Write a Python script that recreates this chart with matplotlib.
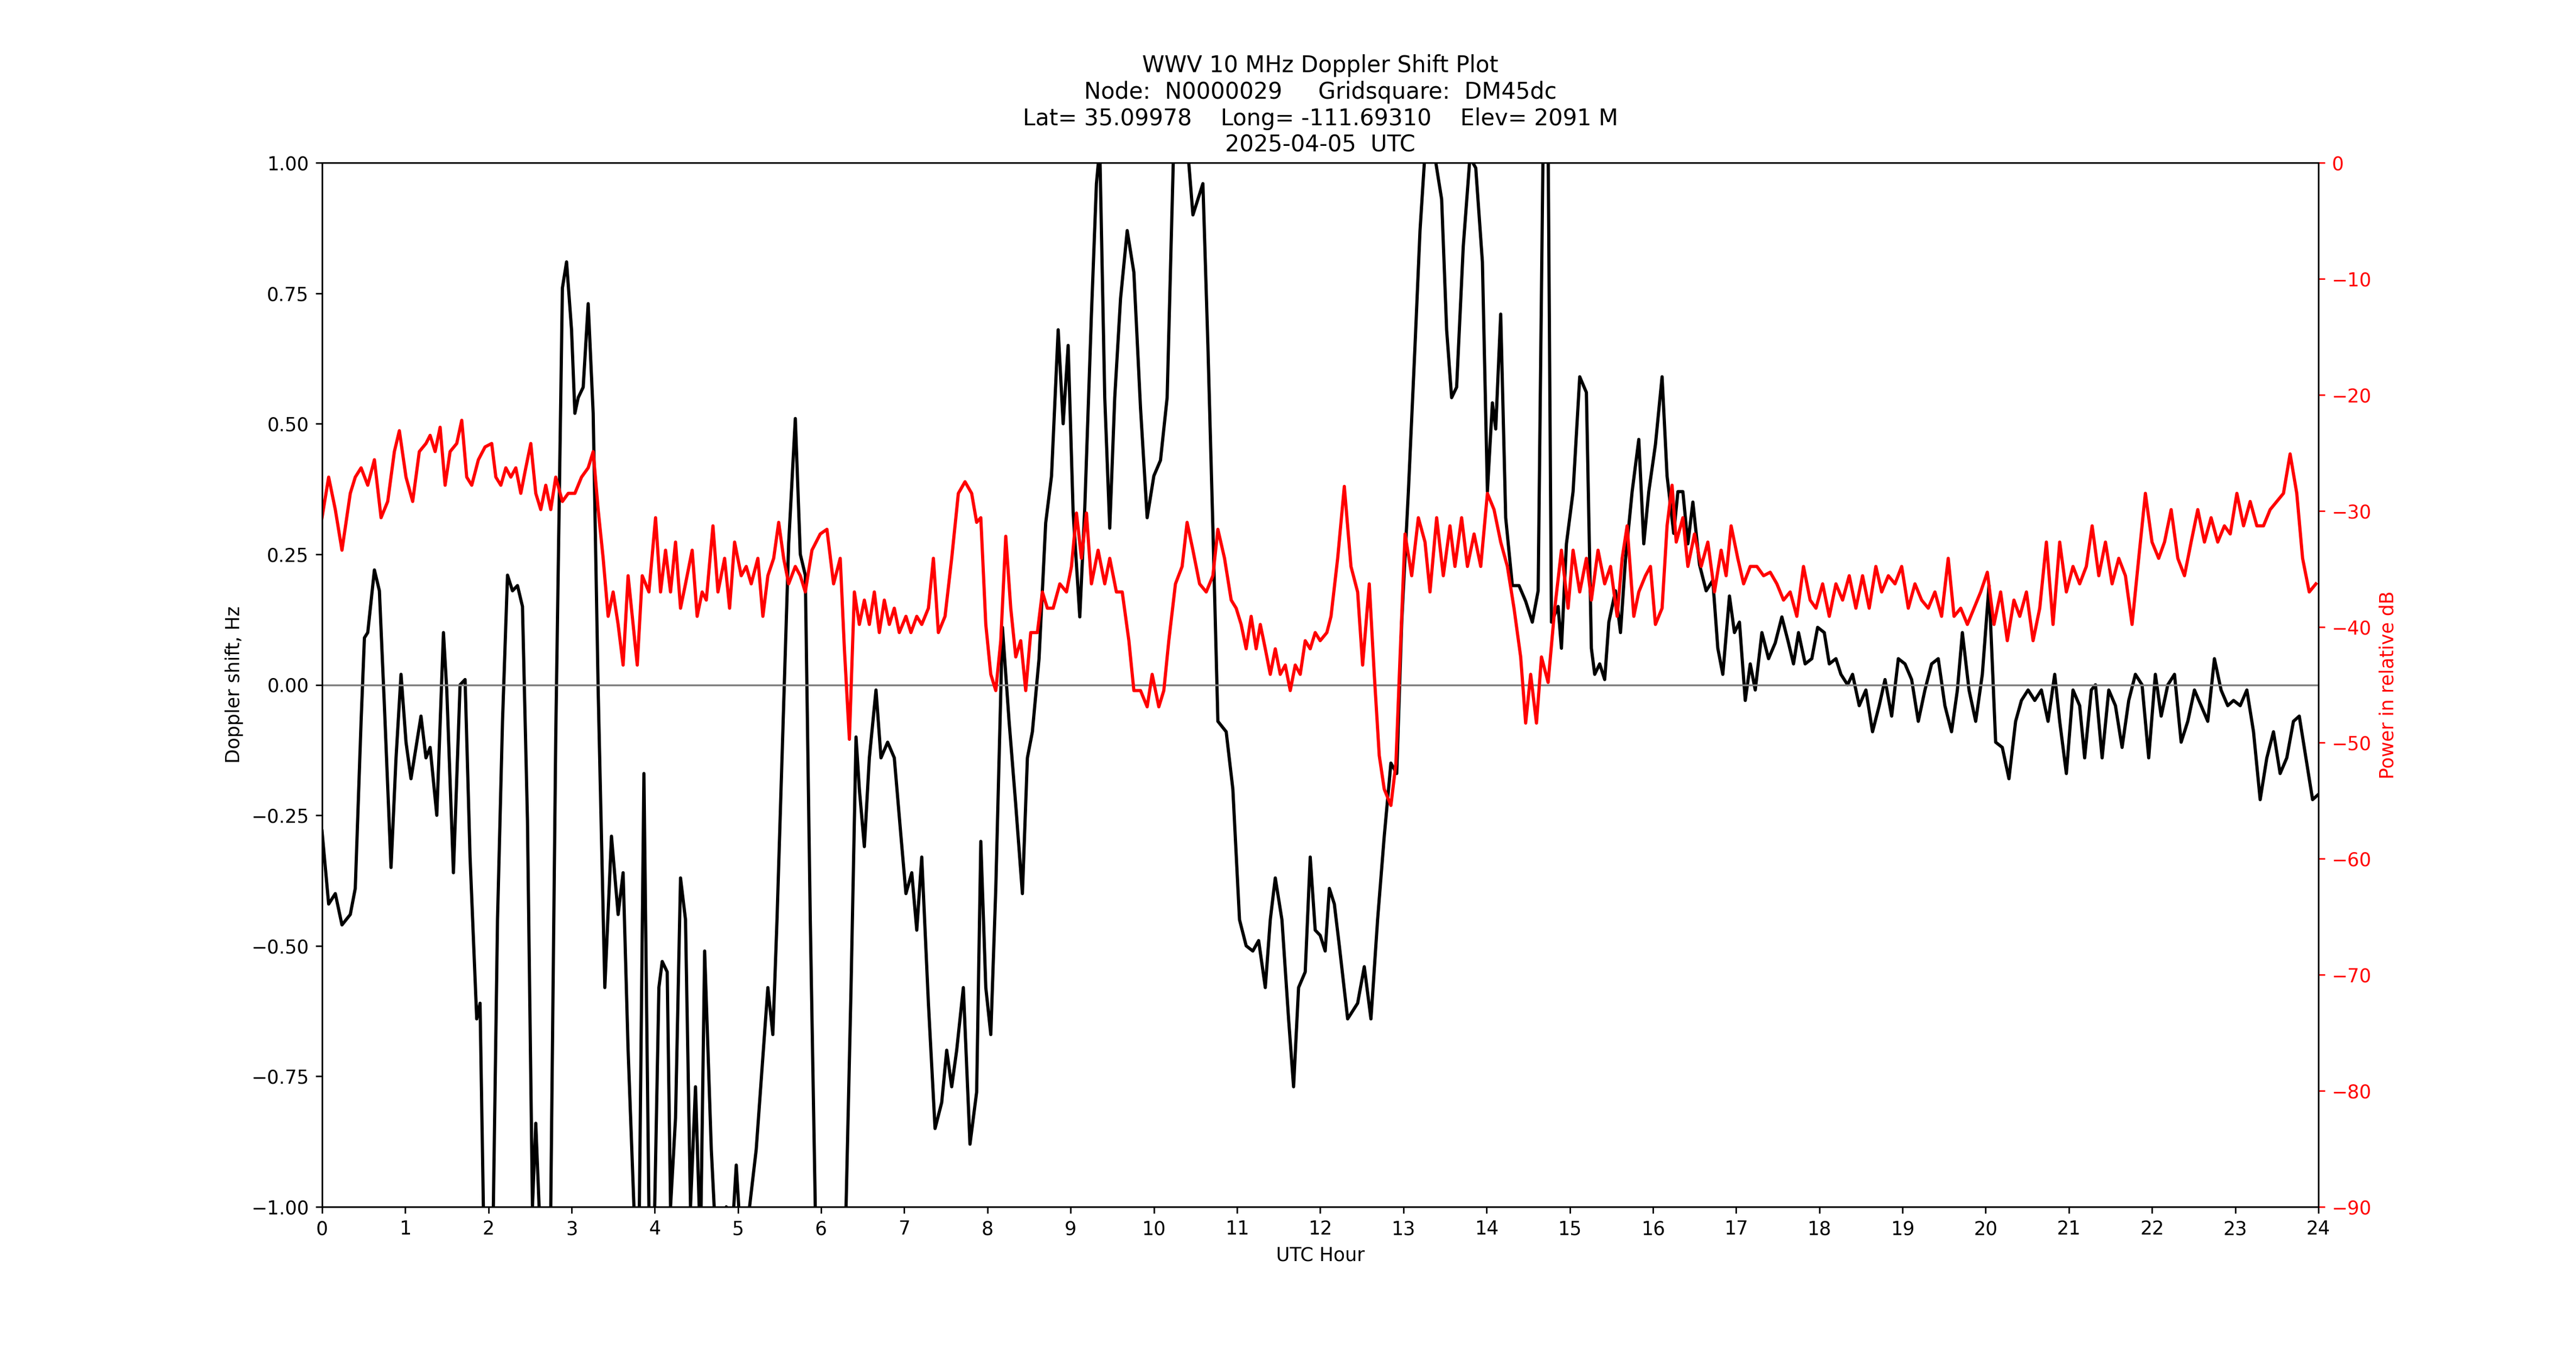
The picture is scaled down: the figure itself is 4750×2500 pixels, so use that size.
import matplotlib
matplotlib.use("Agg")
import matplotlib.pyplot as plt

dop_hours = [0.00,0.08,0.16,0.24,0.34,0.40,0.47,0.51,0.55,0.63,0.69,0.75,0.83,0.89,0.95,1.01,1.07,1.19,1.25,1.30,1.38,1.46,1.50,1.58,1.66,1.72,1.78,1.86,1.90,1.94,1.98,2.06,2.11,2.17,2.23,2.29,2.35,2.41,2.47,2.53,2.57,2.61,2.69,2.75,2.81,2.89,2.94,3.00,3.04,3.08,3.14,3.20,3.26,3.32,3.40,3.48,3.56,3.62,3.68,3.75,3.81,3.87,3.93,3.99,4.05,4.09,4.15,4.19,4.25,4.31,4.37,4.43,4.49,4.55,4.60,4.68,4.74,4.86,4.92,4.98,5.04,5.14,5.22,5.36,5.42,5.47,5.53,5.61,5.69,5.75,5.81,5.87,5.93,6.01,6.23,6.30,6.36,6.42,6.46,6.52,6.58,6.66,6.72,6.80,6.88,6.96,7.02,7.09,7.15,7.21,7.29,7.37,7.45,7.51,7.57,7.63,7.71,7.79,7.87,7.92,7.98,8.04,8.10,8.18,8.26,8.34,8.42,8.48,8.54,8.62,8.70,8.77,8.85,8.91,8.97,9.03,9.11,9.17,9.25,9.31,9.35,9.41,9.47,9.53,9.60,9.68,9.76,9.84,9.92,10.00,10.08,10.16,10.24,10.32,10.40,10.47,10.53,10.59,10.65,10.71,10.77,10.87,10.95,11.03,11.11,11.19,11.26,11.34,11.40,11.46,11.54,11.62,11.68,11.74,11.82,11.88,11.94,12.00,12.06,12.11,12.17,12.23,12.33,12.45,12.53,12.61,12.69,12.77,12.85,12.92,12.98,13.06,13.14,13.20,13.26,13.32,13.38,13.46,13.52,13.58,13.64,13.72,13.80,13.87,13.95,14.01,14.07,14.11,14.17,14.23,14.31,14.39,14.47,14.55,14.62,14.68,14.74,14.78,14.86,14.90,14.96,15.04,15.12,15.20,15.26,15.30,15.36,15.42,15.47,15.55,15.61,15.67,15.75,15.83,15.89,15.95,16.03,16.11,16.17,16.25,16.30,16.36,16.42,16.48,16.56,16.64,16.72,16.78,16.84,16.92,16.98,17.04,17.11,17.17,17.23,17.31,17.39,17.47,17.55,17.63,17.69,17.75,17.83,17.91,17.98,18.06,18.12,18.20,18.26,18.34,18.40,18.48,18.56,18.64,18.72,18.79,18.87,18.95,19.03,19.11,19.19,19.27,19.35,19.43,19.51,19.59,19.66,19.72,19.80,19.88,19.96,20.04,20.12,20.20,20.28,20.36,20.43,20.51,20.59,20.67,20.75,20.83,20.89,20.97,21.05,21.13,21.19,21.27,21.32,21.40,21.48,21.56,21.64,21.72,21.80,21.88,21.96,22.04,22.11,22.19,22.27,22.35,22.43,22.51,22.59,22.67,22.75,22.83,22.91,22.98,23.06,23.14,23.22,23.30,23.38,23.46,23.54,23.62,23.70,23.77,23.85,23.93,24.00]
dop_hz = [-0.28,-0.42,-0.40,-0.46,-0.44,-0.39,-0.07,0.09,0.10,0.22,0.18,-0.04,-0.35,-0.14,0.02,-0.11,-0.18,-0.06,-0.14,-0.12,-0.25,0.10,-0.01,-0.36,0.00,0.01,-0.33,-0.64,-0.61,-1.00,-1.08,-1.00,-0.45,-0.07,0.21,0.18,0.19,0.15,-0.26,-1.00,-0.84,-1.00,-1.08,-1.00,-0.10,0.76,0.81,0.68,0.52,0.55,0.57,0.73,0.52,-0.01,-0.58,-0.29,-0.44,-0.36,-0.70,-1.00,-1.08,-0.17,-1.00,-1.08,-0.58,-0.53,-0.55,-1.00,-0.83,-0.37,-0.45,-1.00,-0.77,-1.08,-0.51,-0.89,-1.08,-1.00,-1.08,-0.92,-1.08,-1.00,-0.89,-0.58,-0.67,-0.45,-0.14,0.27,0.51,0.25,0.21,-0.45,-1.00,-1.08,-1.08,-1.00,-0.58,-0.10,-0.20,-0.31,-0.14,-0.01,-0.14,-0.11,-0.14,-0.29,-0.40,-0.36,-0.47,-0.33,-0.61,-0.85,-0.80,-0.70,-0.77,-0.70,-0.58,-0.88,-0.78,-0.30,-0.58,-0.67,-0.39,0.11,-0.07,-0.23,-0.40,-0.14,-0.09,0.05,0.31,0.40,0.68,0.50,0.65,0.33,0.13,0.34,0.71,0.96,1.03,0.55,0.30,0.55,0.74,0.87,0.79,0.53,0.32,0.40,0.43,0.55,1.04,1.01,1.04,0.90,0.93,0.96,0.65,0.30,-0.07,-0.09,-0.20,-0.45,-0.50,-0.51,-0.49,-0.58,-0.45,-0.37,-0.45,-0.64,-0.77,-0.58,-0.55,-0.33,-0.47,-0.48,-0.51,-0.39,-0.42,-0.50,-0.64,-0.61,-0.54,-0.64,-0.45,-0.29,-0.15,-0.17,0.12,0.37,0.65,0.87,1.02,1.04,1.01,0.93,0.68,0.55,0.57,0.84,1.01,0.99,0.81,0.37,0.54,0.49,0.71,0.32,0.19,0.19,0.16,0.12,0.18,1.04,1.04,0.12,0.15,0.07,0.27,0.37,0.59,0.56,0.07,0.02,0.04,0.01,0.12,0.18,0.10,0.24,0.37,0.47,0.27,0.37,0.46,0.59,0.40,0.29,0.37,0.37,0.27,0.35,0.23,0.18,0.20,0.07,0.02,0.17,0.10,0.12,-0.03,0.04,-0.01,0.10,0.05,0.08,0.13,0.08,0.04,0.10,0.04,0.05,0.11,0.10,0.04,0.05,0.02,0.00,0.02,-0.04,-0.01,-0.09,-0.04,0.01,-0.06,0.05,0.04,0.01,-0.07,-0.01,0.04,0.05,-0.04,-0.09,-0.01,0.10,-0.01,-0.07,0.02,0.19,-0.11,-0.12,-0.18,-0.07,-0.03,-0.01,-0.03,-0.01,-0.07,0.02,-0.07,-0.17,-0.01,-0.04,-0.14,-0.01,0.00,-0.14,-0.01,-0.04,-0.12,-0.03,0.02,0.00,-0.14,0.02,-0.06,0.00,0.02,-0.11,-0.07,-0.01,-0.04,-0.07,0.05,-0.01,-0.04,-0.03,-0.04,-0.01,-0.09,-0.22,-0.14,-0.09,-0.17,-0.14,-0.07,-0.06,-0.14,-0.22,-0.21]

pwr_hours = [0.00,0.08,0.16,0.24,0.34,0.40,0.47,0.55,0.63,0.71,0.79,0.87,0.93,1.01,1.09,1.17,1.25,1.30,1.36,1.42,1.48,1.54,1.62,1.68,1.74,1.80,1.88,1.96,2.04,2.09,2.15,2.21,2.27,2.33,2.39,2.45,2.51,2.57,2.63,2.69,2.75,2.81,2.89,2.96,3.04,3.12,3.20,3.26,3.32,3.38,3.44,3.50,3.56,3.62,3.68,3.74,3.79,3.85,3.93,4.01,4.07,4.13,4.19,4.25,4.31,4.37,4.45,4.51,4.57,4.62,4.70,4.76,4.84,4.90,4.96,5.04,5.10,5.16,5.24,5.30,5.36,5.43,5.49,5.55,5.61,5.69,5.75,5.81,5.89,5.99,6.07,6.15,6.23,6.28,6.34,6.40,6.46,6.52,6.58,6.64,6.70,6.76,6.82,6.88,6.94,7.02,7.08,7.15,7.21,7.29,7.35,7.41,7.49,7.57,7.65,7.73,7.81,7.87,7.92,7.98,8.04,8.10,8.16,8.22,8.28,8.34,8.40,8.46,8.52,8.60,8.66,8.72,8.79,8.87,8.95,9.01,9.07,9.13,9.19,9.25,9.33,9.41,9.47,9.55,9.62,9.70,9.76,9.84,9.92,9.98,10.06,10.12,10.18,10.26,10.34,10.40,10.47,10.55,10.63,10.71,10.77,10.85,10.93,10.99,11.05,11.11,11.17,11.23,11.28,11.34,11.40,11.46,11.52,11.58,11.64,11.70,11.76,11.82,11.88,11.94,12.00,12.08,12.13,12.21,12.29,12.37,12.45,12.51,12.59,12.65,12.71,12.77,12.85,12.91,12.96,13.02,13.10,13.18,13.26,13.32,13.40,13.48,13.56,13.62,13.70,13.77,13.85,13.93,14.01,14.09,14.17,14.25,14.33,14.41,14.47,14.53,14.60,14.66,14.74,14.82,14.90,14.98,15.04,15.12,15.20,15.26,15.34,15.42,15.49,15.57,15.63,15.69,15.77,15.83,15.91,15.97,16.03,16.11,16.17,16.23,16.28,16.36,16.42,16.50,16.58,16.66,16.74,16.82,16.88,16.94,17.02,17.09,17.17,17.25,17.33,17.41,17.49,17.57,17.65,17.73,17.81,17.89,17.96,18.04,18.12,18.20,18.28,18.36,18.44,18.52,18.60,18.68,18.75,18.83,18.91,18.99,19.07,19.15,19.23,19.31,19.39,19.47,19.55,19.62,19.70,19.78,19.86,19.94,20.02,20.10,20.18,20.26,20.34,20.41,20.49,20.57,20.65,20.73,20.81,20.89,20.97,21.05,21.13,21.21,21.28,21.36,21.44,21.52,21.60,21.68,21.76,21.84,21.92,22.00,22.08,22.15,22.23,22.31,22.39,22.47,22.55,22.63,22.71,22.79,22.87,22.94,23.02,23.10,23.18,23.26,23.34,23.42,23.50,23.58,23.66,23.74,23.81,23.89,23.97]
pwr_db = [-30.6,-27.1,-29.9,-33.4,-28.5,-27.1,-26.3,-27.8,-25.6,-30.6,-29.2,-24.9,-23.1,-27.1,-29.2,-24.9,-24.2,-23.5,-24.9,-22.8,-27.8,-24.9,-24.2,-22.2,-27.1,-27.8,-25.6,-24.5,-24.2,-27.1,-27.8,-26.3,-27.1,-26.3,-28.5,-26.3,-24.2,-28.5,-29.9,-27.8,-29.9,-27.1,-29.2,-28.5,-28.5,-27.1,-26.3,-24.9,-29.9,-34.1,-39.1,-37.0,-39.8,-43.3,-35.6,-39.8,-43.3,-35.6,-37.0,-30.6,-37.0,-33.4,-37.0,-32.7,-38.4,-36.3,-33.4,-39.1,-37.0,-37.7,-31.3,-37.0,-34.1,-38.4,-32.7,-35.6,-34.8,-36.3,-34.1,-39.1,-35.6,-34.1,-31.0,-34.1,-36.3,-34.8,-35.6,-37.0,-33.4,-32.0,-31.6,-36.3,-34.1,-41.9,-49.7,-37.0,-39.8,-37.7,-39.8,-37.0,-40.5,-37.7,-39.8,-38.4,-40.5,-39.1,-40.5,-39.1,-39.8,-38.4,-34.1,-40.5,-39.1,-34.1,-28.5,-27.5,-28.5,-31.0,-30.6,-39.8,-44.1,-45.5,-41.2,-32.2,-38.4,-42.6,-41.2,-45.5,-40.5,-40.5,-37.0,-38.4,-38.4,-36.3,-37.0,-34.8,-30.2,-34.1,-30.2,-36.3,-33.4,-36.3,-34.1,-37.0,-37.0,-41.2,-45.5,-45.5,-46.9,-44.1,-46.9,-45.5,-41.2,-36.3,-34.8,-31.0,-33.4,-36.3,-37.0,-35.6,-31.6,-34.1,-37.7,-38.4,-39.8,-41.9,-39.1,-41.9,-39.8,-41.9,-44.1,-41.9,-44.1,-43.3,-45.5,-43.3,-44.1,-41.2,-41.9,-40.5,-41.2,-40.5,-39.1,-34.1,-27.9,-34.8,-37.0,-43.3,-36.3,-44.1,-51.1,-54.0,-55.4,-51.8,-42.6,-32.0,-35.6,-30.6,-32.7,-37.0,-30.6,-35.6,-31.3,-34.8,-30.6,-34.8,-32.0,-34.8,-28.5,-29.9,-32.7,-34.8,-38.4,-42.6,-48.3,-44.1,-48.3,-42.6,-44.8,-38.4,-33.4,-38.4,-33.4,-37.0,-34.1,-37.7,-33.4,-36.3,-34.8,-39.1,-34.1,-31.3,-39.1,-37.0,-35.6,-34.8,-39.8,-38.4,-31.3,-27.8,-32.7,-30.6,-34.8,-32.0,-34.8,-32.7,-37.0,-33.4,-35.6,-31.3,-34.1,-36.3,-34.8,-34.8,-35.6,-35.3,-36.3,-37.7,-37.0,-39.1,-34.8,-37.7,-38.4,-36.3,-39.1,-36.3,-37.7,-35.6,-38.4,-35.6,-38.4,-34.8,-37.0,-35.6,-36.3,-34.8,-38.4,-36.3,-37.7,-38.4,-37.0,-39.1,-34.1,-39.1,-38.4,-39.8,-38.4,-37.0,-35.3,-39.8,-37.0,-41.2,-37.7,-39.1,-37.0,-41.2,-38.4,-32.7,-39.8,-32.7,-37.0,-34.8,-36.3,-34.8,-31.3,-35.6,-32.7,-36.3,-34.1,-35.6,-39.8,-34.1,-28.5,-32.7,-34.1,-32.7,-29.9,-34.1,-35.6,-32.7,-29.9,-32.7,-30.6,-32.7,-31.3,-32.0,-28.5,-31.3,-29.2,-31.3,-31.3,-29.9,-29.2,-28.5,-25.1,-28.5,-34.1,-37.0,-36.3]

title_lines = ["WWV 10 MHz Doppler Shift Plot",
               "Node:  N0000029     Gridsquare:  DM45dc",
               "Lat= 35.09978    Long= -111.69310    Elev= 2091 M",
               "2025-04-05  UTC"]

fig, ax = plt.subplots(figsize=(19, 10), dpi=250)
ax.plot(dop_hours, dop_hz, color='black', linewidth=1.7)
ax.axhline(0, color='gray', linewidth=1.0)
ax.set_xlim(0, 24)
ax.set_ylim(-1, 1)
ax.set_xticks(range(0, 25))
ax.set_xlabel("UTC Hour")
ax.set_ylabel("Doppler shift, Hz")
ax.set_title("\n".join(title_lines), fontsize=12)

ax2 = ax.twinx()
ax2.plot(pwr_hours, pwr_db, color='red', linewidth=1.7)
ax2.set_ylim(-90, 0)
ax2.set_ylabel("Power in relative dB", color='red')
ax2.tick_params(axis='y', colors='red')

fig.savefig("out.png", dpi=250)
